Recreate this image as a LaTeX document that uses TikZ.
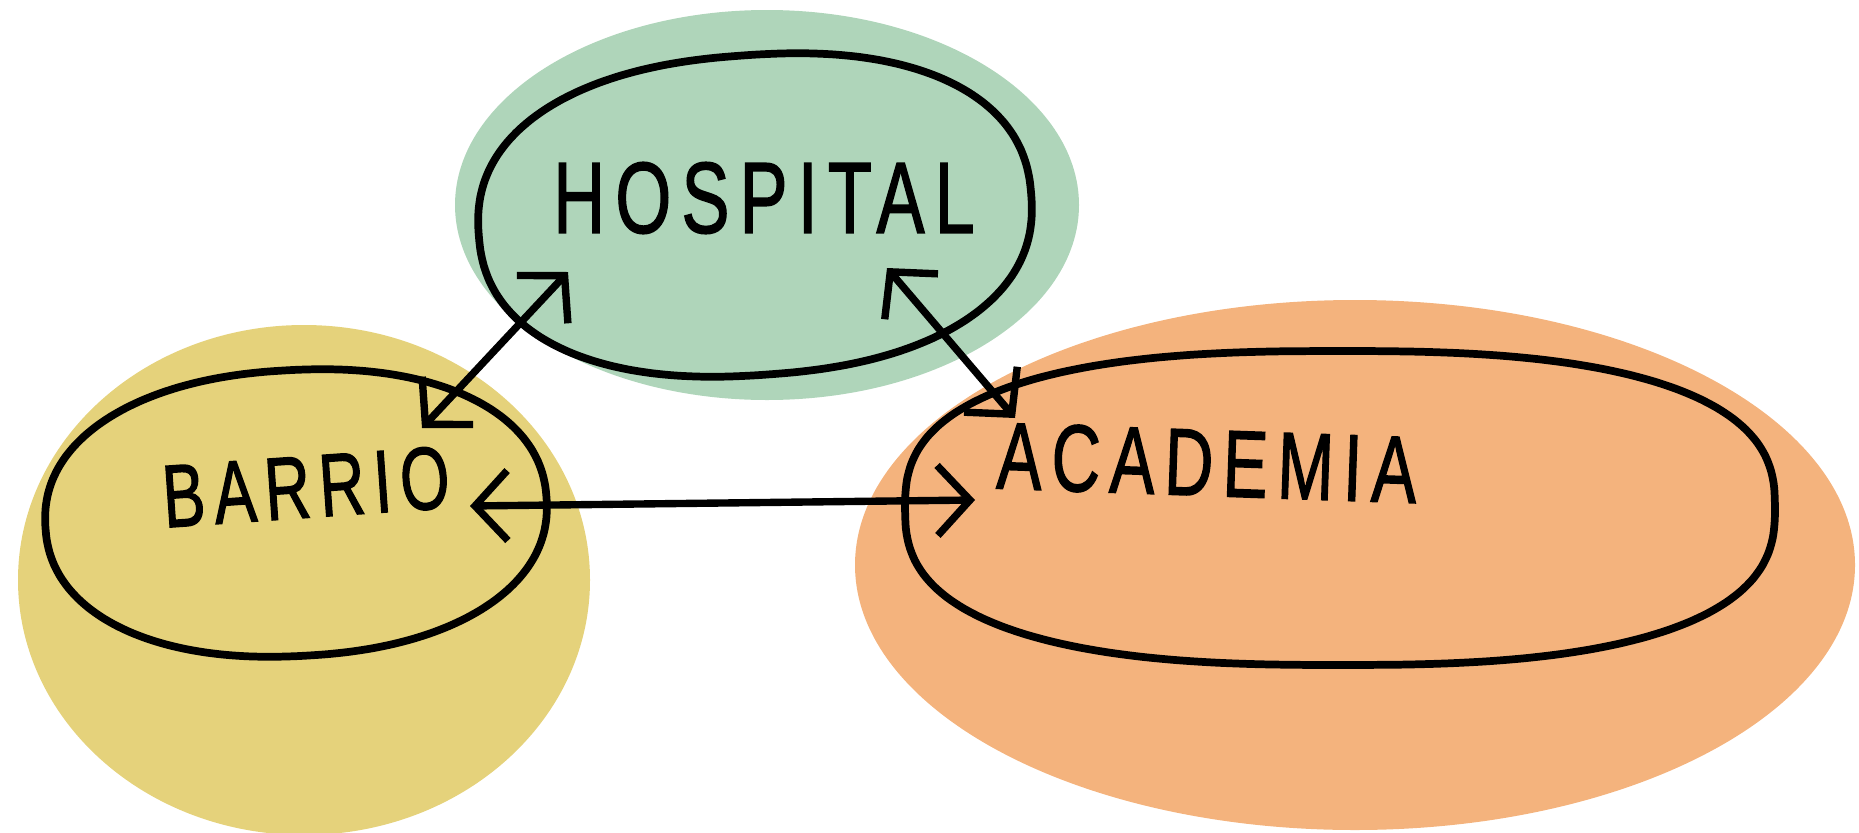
\documentclass[tikz,border=0pt]{standalone}
\usepackage{fontspec}
\setmainfont{Liberation Sans}
\newfontfamily\handfont{Liberation Sans}[FakeBold=1.6,LetterSpace=14]
\usetikzlibrary{arrows.meta}
\definecolor{hgreen}{HTML}{AFD5BA}
\definecolor{byellow}{HTML}{E5D27B}
\definecolor{aorange}{HTML}{F4B37D}
\tikzset{
  blob/.style={draw=none},
  ring/.style={draw=black,line width=4.4pt,line join=round,line cap=round},
  conn/.style={line width=4.2pt,line cap=round,
    {Straight Barb[length=6.5mm,width=14mm,line width=4.2pt]}-{Straight Barb[length=6.5mm,width=14mm,line width=4.2pt]}},
  word/.style={inner sep=0pt}
}
% superellipse ring: cx, cy, rx, ry, exponent-1, rotation
\newcommand\ringpath[6]{%
  \draw[ring,rotate around={#6:(#1,#2)}] plot[domain=1:356, samples=72, smooth cycle, variable=\t]
    ({#1 + #3*cos(\t)*exp(#5*ln(abs(cos(\t))))}, {#2 + #4*sin(\t)*exp(#5*ln(abs(sin(\t))))});}
\begin{document}
\begin{tikzpicture}[x=0.02cm,y=-0.02cm]
\useasboundingbox (0,0) rectangle (1859,832);
% colour blobs
\fill[hgreen,blob] (767,205) ellipse [x radius=312, y radius=195];
\fill[byellow,blob] (304,580) ellipse [x radius=286, y radius=255];
\fill[aorange,blob] (1355,565) ellipse [x radius=500, y radius=265];
% hand-drawn rings
\ringpath{755}{215}{277}{160}{-0.13}{4}
\ringpath{296}{513}{251}{143}{-0.09}{3}
\ringpath{1340}{508}{435}{157}{-0.23}{0}
% labels
\node[word] (hosp) at (764,198) {\scalebox{0.82}[1.15]{\fontsize{50}{50}\handfont HOSPITAL}};
\node[word,rotate=4] (barr) at (306,487) {\scalebox{0.82}[1.15]{\fontsize{44}{44}\handfont BARRIO}};
\node[word,rotate=-2] (acad) at (1207,463) {\scalebox{0.82}[1.15]{\fontsize{47}{47}\handfont ACADEMIA}};
% connector ends
\coordinate (bh1) at (422,428);
\coordinate (bh2) at (568,272);
\coordinate (ha1) at (887,268);
\coordinate (ha2) at (1015,418);
\coordinate (ba1) at (470,506);
\coordinate (ba2) at (975,500);
\draw[conn] (bh1) -- (bh2);
\draw[conn] (ha1) -- (ha2);
\draw[conn] (ba1) -- (ba2);
\end{tikzpicture}
\end{document}
